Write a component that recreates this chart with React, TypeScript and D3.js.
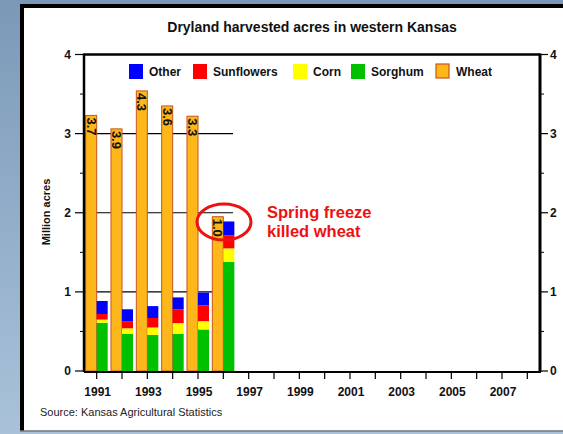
import React from "react";
import * as d3 from "d3";

const years = [1991, 1992, 1993, 1994, 1995, 1996];
const wheat = [3.23, 3.06, 3.54, 3.35, 3.22, 1.95];
const wheatLabels = ["3.7", "3.9", "4.3", "3.6", "3.3", "1.0"];
const sorghum = [0.61, 0.47, 0.455, 0.47, 0.525, 1.38];
const corn = [0.04, 0.07, 0.095, 0.135, 0.105, 0.17];
const sunflowers = [0.07, 0.09, 0.12, 0.175, 0.2, 0.165];
const other = [0.165, 0.15, 0.15, 0.15, 0.16, 0.175];
const yTicks = [0, 1, 2, 3, 4];
const gridValues = [1, 2, 3];
const xLabelYears = [1991, 1993, 1995, 1997, 1999, 2001, 2003, 2005, 2007];
const xTickYears = d3.range(1991, 2009);
const legendItems = [
  { name: "Other", color: "#0000FF" },
  { name: "Sunflowers", color: "#FF0000" },
  { name: "Corn", color: "#FFFF00" },
  { name: "Sorghum", color: "#00C000" },
  { name: "Wheat", color: "#FDB71A" },
];

const W = 563;
const H = 434;
const FONT = "'Liberation Sans', Arial, Helvetica, sans-serif";
const WHEAT_FILL = "#FDB71A";
const WHEAT_STROKE = "#C9561C";

export default function App() {
  const x = d3.scaleLinear().domain([1990.5, 2008.5]).range([84, 540]);
  const y = d3.scaleLinear().domain([0, 4]).range([371, 54.5]);
  const bw = (x(1) - x(0)) * 0.435;

  const stackKeys = ["Sorghum", "Corn", "Sunflowers", "Other"];
  const rows = years.map((yr, i) => ({
    year: yr,
    Sorghum: sorghum[i],
    Corn: corn[i],
    Sunflowers: sunflowers[i],
    Other: other[i],
  }));
  const stacked = d3.stack<any>().keys(stackKeys)(rows);
  const colorOf: Record<string, string> = {
    Sorghum: "#00C000",
    Corn: "#FFFF00",
    Sunflowers: "#FF0000",
    Other: "#0000FF",
  };

  const minorTicks = d3.range(0.5, 4, 1);
  const legendX = [129, 193, 293, 351, 436];

  return (
    <div style={{ position: "absolute", left: 0, top: 0 }}>
      <svg width={W} height={H} style={{ display: "block" }} fontFamily={FONT}>
        <defs>
          <linearGradient id="bg" x1="0" y1="0" x2="0" y2="1">
            <stop offset="0" stopColor="#7b99b7" />
            <stop offset="1" stopColor="#a9c2da" />
          </linearGradient>
        </defs>
        <rect x={0} y={0} width={W} height={H} fill="url(#bg)" />
        <rect x={22} y={6} width={W} height={425} fill="#ffffff" />
        <line x1={22} x2={W} y1={6} y2={6} stroke="#000" strokeWidth={4} />
        <line x1={22} x2={22} y1={4} y2={431} stroke="#000" strokeWidth={4} />
        <line x1={20} x2={W} y1={431} y2={431} stroke="#6f7780" strokeWidth={1.5} />

        {/* title */}
        <text x={312} y={32} textAnchor="middle" fontSize={14} fontWeight="bold" fill="#111">
          Dryland harvested acres in western Kansas
        </text>

        {/* gridlines */}
        {gridValues.map((v) => (
          <line key={v} x1={84} x2={233} y1={y(v)} y2={y(v)} stroke="#000" strokeWidth={1.2} />
        ))}

        {/* wheat bars */}
        {years.map((yr, i) => (
          <g key={yr}>
            <rect
              x={x(yr) - bw}
              y={y(wheat[i])}
              width={bw}
              height={y(0) - y(wheat[i])}
              fill={WHEAT_FILL}
              stroke={WHEAT_STROKE}
              strokeWidth={1}
            />
            <text
              transform={`translate(${x(yr) - bw / 2},${y(wheat[i]) + 2}) rotate(90)`}
              fontSize={13}
              fontWeight="bold"
              dominantBaseline="central"
              fill="#111"
            >
              {wheatLabels[i]}
            </text>
          </g>
        ))}

        {/* stacked other crops */}
        {stacked.map((s) =>
          s.map((d, i) => (
            <rect
              key={s.key + i}
              x={x(years[i])}
              y={y(d[1])}
              width={bw}
              height={y(d[0]) - y(d[1])}
              fill={colorOf[s.key]}
            />
          ))
        )}

        {/* axes frame */}
        <line x1={84} x2={540} y1={y(4)} y2={y(4)} stroke="#000" strokeWidth={2.5} />
        <line x1={84} x2={84} y1={y(4) - 1} y2={y(0) + 1} stroke="#000" strokeWidth={2.5} />
        <line x1={540} x2={540} y1={y(4) - 1} y2={y(0) + 1} stroke="#000" strokeWidth={3} />
        <line x1={84} x2={541} y1={y(0) + 1} y2={y(0) + 1} stroke="#000" strokeWidth={2} />

        {/* y ticks left and right */}
        {yTicks.map((v) => (
          <g key={v}>
            <line x1={75} x2={84} y1={y(v)} y2={y(v)} stroke="#000" strokeWidth={1.2} />
            <text x={71} y={y(v)} textAnchor="end" dominantBaseline="central" fontSize={12} fontWeight="bold" fill="#111">
              {v}
            </text>
            <line x1={540} x2={548} y1={y(v)} y2={y(v)} stroke="#000" strokeWidth={1.2} />
            <text x={550} y={y(v)} textAnchor="start" dominantBaseline="central" fontSize={12} fontWeight="bold" fill="#111">
              {v}
            </text>
          </g>
        ))}
        {minorTicks.map((v) => (
          <g key={"m" + v}>
            <line x1={80} x2={84} y1={y(v)} y2={y(v)} stroke="#000" strokeWidth={1} />
            <line x1={540} x2={544} y1={y(v)} y2={y(v)} stroke="#000" strokeWidth={1} />
          </g>
        ))}

        {/* x ticks */}
        {xTickYears.map((yr) => (
          <line key={yr} x1={x(yr)} x2={x(yr)} y1={y(0) + 1} y2={y(0) + 8} stroke="#000" strokeWidth={1.2} />
        ))}
        {xLabelYears.map((yr) => (
          <text key={yr} x={x(yr) + 1} y={396} textAnchor="middle" fontSize={12} fontWeight="bold" fill="#111">
            {yr}
          </text>
        ))}

        {/* y axis title */}
        <text
          transform={`translate(46,${212}) rotate(-90)`}
          textAnchor="middle"
          dominantBaseline="central"
          fontSize={11}
          fontWeight="bold"
          fill="#111"
        >
          Million acres
        </text>

        {/* legend */}
        {legendItems.map((it, i) => (
          <g key={it.name}>
            <rect
              x={legendX[i]}
              y={64}
              width={it.name === "Wheat" ? 13 : 14}
              height={it.name === "Wheat" ? 14 : 15}
              fill={it.color}
              stroke={it.name === "Wheat" ? WHEAT_STROKE : "none"}
              strokeWidth={1.2}
            />
            <text x={legendX[i] + 20} y={76} fontSize={12} fontWeight="bold" fill="#111">
              {it.name}
            </text>
          </g>
        ))}

        {/* annotation */}
        <ellipse cx={224} cy={222} rx={27} ry={18} fill="none" stroke="#EE1111" strokeWidth={3} />
        <text x={267} y={218} fontSize={16.5} fontWeight="bold" fill="#EE1111">
          Spring freeze
        </text>
        <text x={267} y={237} fontSize={16.5} fontWeight="bold" fill="#EE1111">
          killed wheat
        </text>

        {/* source */}
        <text x={40} y={416} fontSize={11} fill="#222">
          Source: Kansas Agricultural Statistics
        </text>
      </svg>
    </div>
  );
}
